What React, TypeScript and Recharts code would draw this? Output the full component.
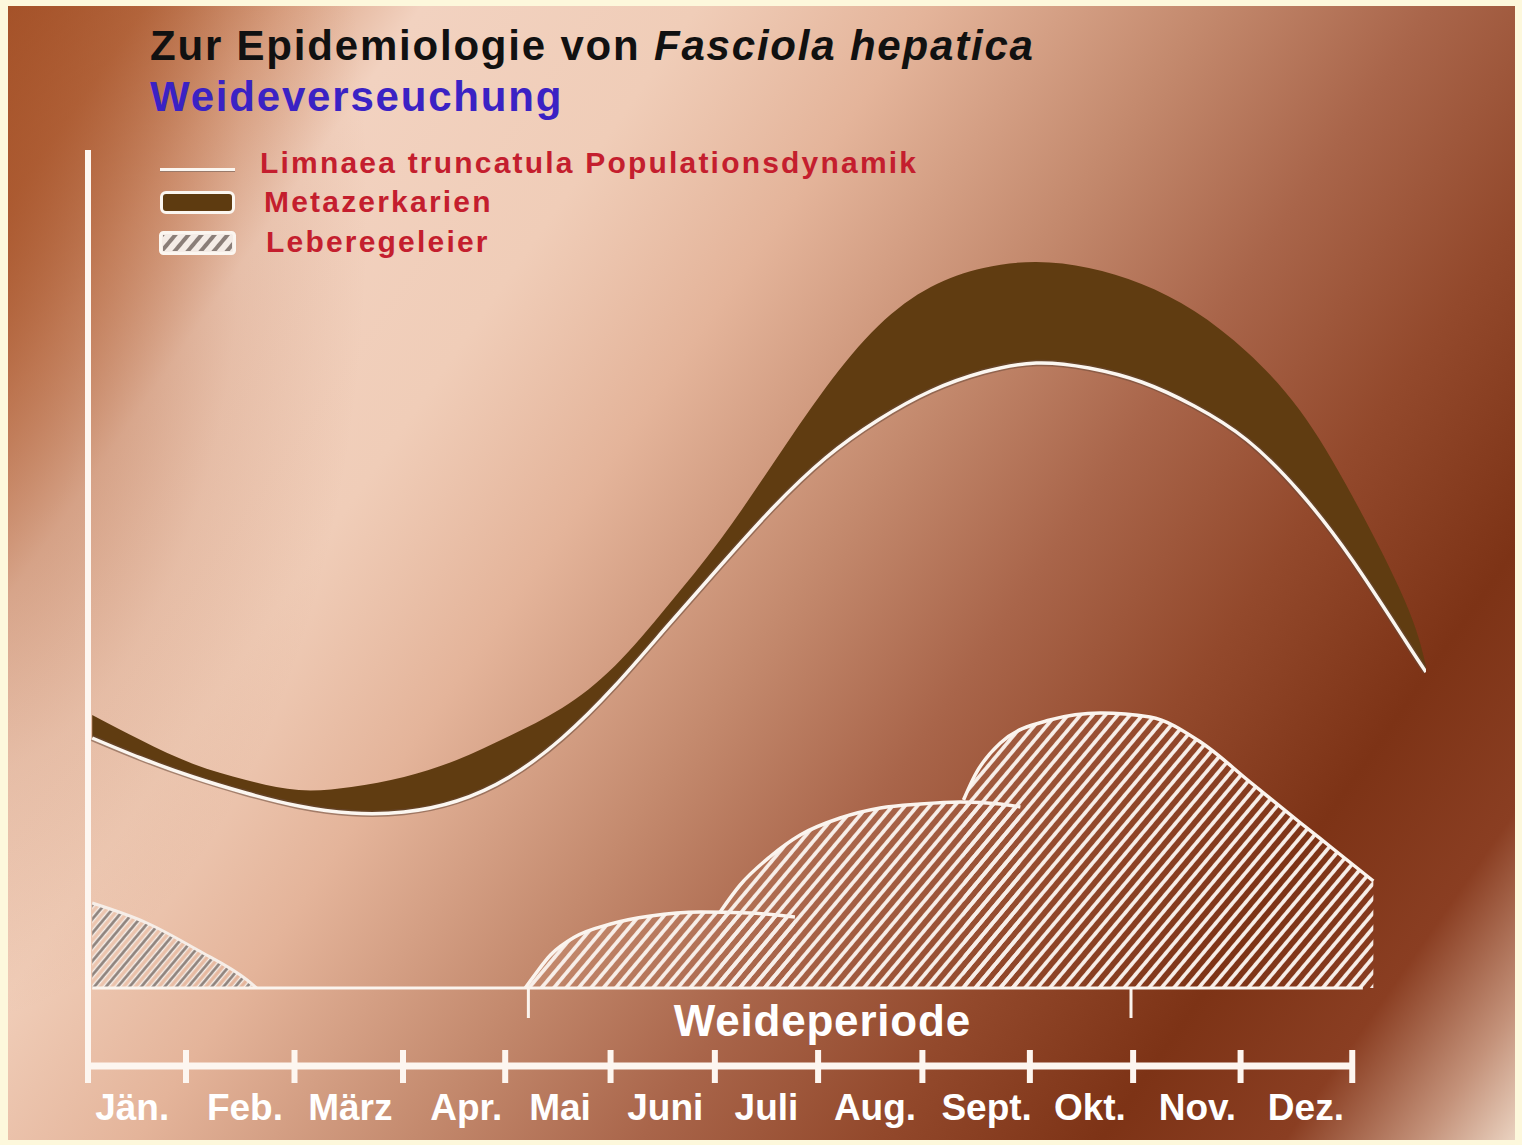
import React from "react";
import {
  ComposedChart,
  Area,
  Line,
  XAxis,
  YAxis,
  ReferenceLine,
  ReferenceDot,
} from "recharts";

const FONT = "'Liberation Sans', Arial, Helvetica, sans-serif";

// month axis: boundaries (tick marks) and label centres, in months from 1 Jan
const MONTHS = ["Jän.", "Feb.", "März", "Apr.", "Mai", "Juni", "Juli", "Aug.", "Sept.", "Okt.", "Nov.", "Dez."];
const MONTH_BOUNDS = [0, 0.93, 1.96, 2.99, 3.96, 4.96, 5.95, 6.93, 7.92, 8.94, 9.92, 10.94, 12];
const MONTH_LABEL_POS = [0.42, 1.49, 2.49, 3.59, 4.48, 5.48, 6.44, 7.47, 8.53, 9.51, 10.53, 11.56];

// Limnaea population (white line) and upper edge of the Metazerkarien band
const CURVE_X = [0.04, 0.5, 1, 1.5, 2, 2.5, 3, 3.5, 4, 4.5, 5, 5.5, 6, 6.5, 7, 7.5, 8, 8.5, 9, 9.5, 10, 10.5, 11, 11.5, 12, 12.5, 12.7];
const LIMNAEA = [32.8, 30.8, 28.9, 27.3, 26.0, 25.3, 25.4, 26.5, 28.9, 32.8, 38.0, 44.0, 50.0, 55.8, 60.8, 64.6, 67.5, 69.4, 70.3, 69.8, 68.4, 66.0, 62.6, 57.4, 50.6, 42.6, 39.4];
const METAZERKARIEN = [35.1, 32.6, 30.2, 28.6, 27.6, 27.9, 28.9, 30.6, 33.0, 35.8, 40.0, 46.0, 52.6, 60.2, 67.8, 74.0, 77.9, 79.8, 80.4, 79.8, 78.2, 75.5, 71.4, 65.6, 57.0, 46.5, 40.0];

// Leberegeleier humps (hatched)
const EIER_BASE = 7.8;
const EIER_JAN_X = [0.04, 0.56, 1.04, 1.51, 1.6];
const EIER_JAN = [16.3, 14.3, 11.6, 8.6, 7.8];
const EIER_JUNI_X = [4.15, 4.24, 4.39, 4.62, 4.96, 5.34, 5.81, 6.28, 6.71];
const EIER_JUNI = [7.8, 9.1, 11.1, 12.9, 14.2, 15.0, 15.4, 15.3, 14.9];
const EIER_AUG_X = [6.0, 6.19, 6.47, 6.76, 7.14, 7.52, 7.9, 8.28, 8.66, 8.85];
const EIER_AUG = [15.4, 18.1, 20.9, 23.1, 24.8, 25.8, 26.2, 26.4, 26.2, 25.9];
const EIER_OKT_X = [8.31, 8.42, 8.66, 9.13, 9.61, 10.08, 10.56, 11.03, 11.51, 11.82, 12.2];
const EIER_OKT = [26.6, 29.1, 32.3, 34.6, 35.3, 34.9, 32.4, 28.4, 24.3, 21.7, 18.5];

// Weideperiode bracket
const WEIDE_START = 4.18;
const WEIDE_END = 9.9;

type Row = {
  x: number;
  limnaea?: number;
  band?: [number, number];
  jan?: number;
  juni?: number;
  aug?: number;
  okt?: number;
};

function buildTable(): Row[] {
  const rows = new Map<number, Row>();
  const put = (x: number, fill: (r: Row) => void) => {
    const r = rows.get(x) ?? { x };
    fill(r);
    rows.set(x, r);
  };
  CURVE_X.forEach((x, i) =>
    put(x, (r) => {
      r.limnaea = LIMNAEA[i];
      r.band = [LIMNAEA[i], METAZERKARIEN[i]];
    })
  );
  EIER_JAN_X.forEach((x, i) => put(x, (r) => (r.jan = EIER_JAN[i])));
  EIER_JUNI_X.forEach((x, i) => put(x, (r) => (r.juni = EIER_JUNI[i])));
  EIER_AUG_X.forEach((x, i) => put(x, (r) => (r.aug = EIER_AUG[i])));
  EIER_OKT_X.forEach((x, i) => put(x, (r) => (r.okt = EIER_OKT[i])));
  return Array.from(rows.values()).sort((a, b) => a.x - b.x);
}

const TABLE = buildTable();

const BACKGROUND = [
  "radial-gradient(ellipse 420px 820px at -60px 200px, rgba(166,82,40,0.85) 0%, rgba(166,82,40,0.45) 40%, rgba(166,82,40,0.15) 70%, rgba(166,82,40,0) 100%)",
  "linear-gradient(125deg, #a3522a 0%, #b86d45 6%, #dba486 12%, #f2d2c0 18%, #f0cdb8 30%, #e4b49a 40%, #c48a6e 52%, #a9654a 62%, #93492c 72%, #7d3316 82%, #8a3e22 90%, #c4927a 96%, #ead2c0 100%)",
].join(", ");

function WeideLabel(props: any) {
  const vb = props.viewBox || {};
  const cx = (vb.x ?? 0) + (vb.width ?? 0) / 2;
  const cy = (vb.y ?? 0) + (vb.height ?? 0) / 2;
  return (
    <text
      x={cx}
      y={cy}
      textAnchor="middle"
      dominantBaseline="central"
      fill="#ffffff"
      fontSize={44}
      fontWeight={700}
      fontFamily={FONT}
      letterSpacing={0.8}
    >
      Weideperiode
    </text>
  );
}

const legendText: React.CSSProperties = {
  position: "absolute",
  left: 260,
  fontSize: 30,
  lineHeight: "30px",
  fontWeight: 700,
  letterSpacing: 2.2,
  color: "#c41e2e",
  whiteSpace: "nowrap",
};

const titleText: React.CSSProperties = {
  position: "absolute",
  left: 150,
  fontSize: 42,
  lineHeight: "42px",
  fontWeight: 700,
  letterSpacing: 1.8,
  whiteSpace: "nowrap",
};

export default function App() {
  return (
    <div
      style={{
        position: "absolute",
        left: 0,
        top: 0,
        width: 1522,
        height: 1145,
        background: "#fdf8dc",
        fontFamily: FONT,
        overflow: "hidden",
      }}
    >
      <div
        style={{
          position: "absolute",
          left: 8,
          top: 6,
          width: 1507,
          height: 1134,
          background: BACKGROUND,
        }}
      />

      <ComposedChart
        width={1522}
        height={1145}
        data={TABLE}
        margin={{ top: 146, right: 96, bottom: 9, left: 88 }}
        style={{ position: "absolute", left: 0, top: 0 }}
      >
        <defs>
          <pattern
            id="hatch"
            patternUnits="userSpaceOnUse"
            width={9.5}
            height={9.5}
            patternTransform="rotate(40)"
          >
            <line x1={4.75} y1={0} x2={4.75} y2={9.5} stroke="#f8efe9" strokeWidth={3.7} />
          </pattern>
          <pattern
            id="hatchGray"
            patternUnits="userSpaceOnUse"
            width={9}
            height={9}
            patternTransform="rotate(40)"
          >
            <line x1={4.5} y1={0} x2={4.5} y2={9} stroke="#f6eee8" strokeWidth={5.5} />
            <line x1={4.5} y1={0} x2={4.5} y2={9} stroke="#8a7e78" strokeWidth={2.6} />
          </pattern>
        </defs>

        <XAxis
          dataKey="x"
          type="number"
          domain={[0, 12.7]}
          ticks={MONTH_LABEL_POS}
          interval={0}
          tickFormatter={(_v: number, i: number) => MONTHS[i]}
          axisLine={false}
          tickLine={false}
          tickMargin={22}
          height={70}
          allowDataOverflow
          tick={{ fill: "#ffffff", fontSize: 37, fontWeight: 700, fontFamily: FONT }}
        />
        <YAxis type="number" domain={[0, 92]} hide allowDataOverflow />

        {/* Metazerkarien band */}
        <Area
          type="natural"
          dataKey="band"
          stroke="none"
          fill="#603c11"
          fillOpacity={1}
          connectNulls
          isAnimationActive={false}
        />
        {/* Limnaea line with a soft dark edge */}
        <Line
          type="natural"
          dataKey="limnaea"
          stroke="#6b4b3a"
          strokeOpacity={0.55}
          strokeWidth={6.5}
          dot={false}
          connectNulls
          isAnimationActive={false}
        />
        <Line
          type="natural"
          dataKey="limnaea"
          stroke="#fbf6f0"
          strokeWidth={3.5}
          dot={false}
          connectNulls
          isAnimationActive={false}
        />

        {/* Leberegeleier */}
        <Area
          type="monotone"
          dataKey="jan"
          baseValue={EIER_BASE}
          stroke="#f6eee8"
          strokeWidth={3}
          fill="url(#hatchGray)"
          fillOpacity={1}
          connectNulls
          isAnimationActive={false}
        />
        <Area
          type="monotone"
          dataKey="juni"
          baseValue={EIER_BASE}
          stroke="#fbf4ee"
          strokeWidth={3.5}
          fill="url(#hatch)"
          fillOpacity={1}
          connectNulls
          isAnimationActive={false}
        />
        <Area
          type="monotone"
          dataKey="aug"
          baseValue={EIER_BASE}
          stroke="#fbf4ee"
          strokeWidth={3.5}
          fill="url(#hatch)"
          fillOpacity={1}
          connectNulls
          isAnimationActive={false}
        />
        <Area
          type="monotone"
          dataKey="okt"
          baseValue={EIER_BASE}
          stroke="#fbf4ee"
          strokeWidth={3.5}
          fill="url(#hatch)"
          fillOpacity={1}
          connectNulls
          isAnimationActive={false}
        />

        {/* baseline of the egg areas and Weideperiode bracket */}
        <ReferenceLine
          segment={[{ x: 0.04, y: EIER_BASE }, { x: 12.1, y: EIER_BASE }]}
          stroke="#fbf4ee"
          strokeWidth={3}
          ifOverflow="visible"
        />
        <ReferenceLine
          segment={[{ x: WEIDE_START, y: EIER_BASE }, { x: WEIDE_START, y: 4.8 }]}
          stroke="#fbf4ee"
          strokeWidth={3}
          ifOverflow="visible"
        />
        <ReferenceLine
          segment={[{ x: WEIDE_END, y: EIER_BASE }, { x: WEIDE_END, y: 4.8 }]}
          stroke="#fbf4ee"
          strokeWidth={3}
          ifOverflow="visible"
        />
        <ReferenceDot
          x={(WEIDE_START + WEIDE_END) / 2 - 0.07}
          y={4.6}
          r={0}
          fill="none"
          stroke="none"
          label={(p: any) => <WeideLabel {...p} />}
        />

        {/* axes drawn as thick white strokes */}
        <ReferenceLine
          segment={[{ x: 0, y: -0.4 }, { x: 0, y: 91.6 }]}
          stroke="#fdf6f0"
          strokeWidth={6}
          ifOverflow="visible"
        />
        <ReferenceLine
          segment={[{ x: 0, y: 0 }, { x: 12, y: 0 }]}
          stroke="#fdf6f0"
          strokeWidth={7}
          ifOverflow="visible"
        />
        {MONTH_BOUNDS.map((m) => (
          <ReferenceLine
            key={m}
            segment={[{ x: m, y: 1.6 }, { x: m, y: -1.7 }]}
            stroke="#fdf6f0"
            strokeWidth={6}
            ifOverflow="visible"
          />
        ))}
      </ComposedChart>

      {/* title */}
      <div style={{ ...titleText, top: 25, color: "#111111" }}>
        Zur Epidemiologie von <i>Fasciola hepatica</i>
      </div>
      <div style={{ ...titleText, top: 76, color: "#3a22c4" }}>Weideverseuchung</div>

      {/* legend */}
      <div
        style={{
          position: "absolute",
          left: 160,
          top: 168,
          width: 75,
          height: 3,
          background: "#fbf6f0",
          borderBottom: "1px solid #9a7a6a",
        }}
      />
      <div style={{ ...legendText, top: 148 }}>Limnaea truncatula Populationsdynamik</div>
      <div
        style={{
          position: "absolute",
          left: 160,
          top: 191,
          width: 69,
          height: 17,
          background: "#5e3b10",
          border: "3px solid #fbf6f0",
          borderRadius: 6,
        }}
      />
      <div style={{ ...legendText, left: 264, top: 187 }}>Metazerkarien</div>
      <svg
        width={77}
        height={24}
        style={{ position: "absolute", left: 159, top: 231 }}
      >
        <defs>
          <pattern
            id="legendHatch"
            patternUnits="userSpaceOnUse"
            width={10}
            height={10}
            patternTransform="rotate(40)"
          >
            <line x1={5} y1={0} x2={5} y2={10} stroke="#8a7e78" strokeWidth={4} />
          </pattern>
        </defs>
        <rect x={1.5} y={1.5} width={74} height={21} rx={3} fill="#f4ece6" stroke="#fbf6f0" strokeWidth={3} />
        <rect x={4} y={4} width={69} height={16} fill="url(#legendHatch)" />
      </svg>
      <div style={{ ...legendText, left: 266, top: 227 }}>Leberegeleier</div>
    </div>
  );
}
